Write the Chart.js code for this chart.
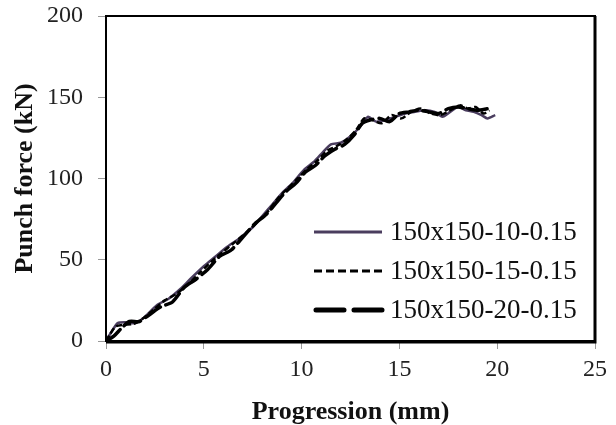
<!DOCTYPE html>
<html>
<head>
<meta charset="utf-8">
<script src="https://cdn.jsdelivr.net/npm/chart.js@4"></script>
<style>
  html, body { margin: 0; padding: 0; background: #fff; }
  #wrap { width: 616px; height: 425px; }
</style>
</head>
<body>
<div id="wrap"><canvas id="graficoPunch" width="616" height="425"></canvas></div>
<script>
// series labels
const seriesNames = ['150x150-10-0.15', '150x150-15-0.15', '150x150-20-0.15'];

// 150x150-10-0.15 (solid)
const progA = [0, 0.3, 0.6, 1.0, 1.5, 2.0, 2.6, 3.2, 3.8, 4.3, 5.0, 5.6, 6.2, 6.8, 7.5, 8.0, 8.5, 9.0, 9.6, 10.1,
  10.6, 11.0, 11.5, 12.0, 12.5, 13.0, 13.4, 13.8, 14.3, 14.8, 15.3, 15.8, 16.3, 16.8, 17.2, 17.6, 18.0, 18.4, 18.8, 19.2, 19.5, 19.9];
const forceA = [0, 6, 11, 11.5, 11, 15, 22, 26, 32, 38, 46, 52, 58, 63, 70, 77, 84, 91, 98, 105,
  110, 115, 121, 122, 126, 132, 138, 135, 136, 138, 140, 141, 142, 141, 138, 141, 144, 142, 141, 139, 137, 139];

// 150x150-15-0.15 (short dash)
const progB = [0, 0.2, 0.5, 0.9, 1.4, 1.9, 2.4, 3.0, 3.6, 4.2, 4.8, 5.4, 6.0, 6.6, 7.2, 7.8, 8.3, 8.8, 9.3, 9.8,
  10.3, 10.8, 11.3, 11.8, 12.3, 12.8, 13.2, 13.6, 14.1, 14.6, 15.1, 15.6, 16.1, 16.6, 17.1, 17.6, 18.1, 18.5, 18.9, 19.3, 19.6];
const forceB = [0, 4, 9, 10, 10.5, 14, 19, 25, 29, 35, 42, 49, 55, 61, 67, 74, 80, 88, 94, 100,
  106, 111, 117, 120, 124, 130, 137, 136, 134, 139, 137, 141, 143, 140, 139, 142, 145, 143, 144, 140, 142];

// 150x150-20-0.15 (long dash)
const progC = [0, 0.4, 0.8, 1.2, 1.7, 2.2, 2.8, 3.4, 4.0, 4.6, 5.2, 5.8, 6.4, 7.0, 7.6, 8.2, 8.7, 9.2, 9.7, 10.2,
  10.7, 11.2, 11.7, 12.2, 12.7, 13.1, 13.5, 14.0, 14.5, 15.0, 15.5, 16.0, 16.5, 17.0, 17.5, 18.0, 18.5, 19.0, 19.5];
const forceC = [0, 3, 8, 12, 12, 16, 21, 24, 33, 38, 44, 52, 56, 64, 72, 78, 85, 92, 97, 104,
  108, 114, 118, 121, 127, 134, 136, 137, 135, 140, 141, 142, 141, 140, 143, 144, 143, 142, 143];

// axis ticks
const xTicks = [0, 5, 10, 15, 20, 25];
const yTicks = [0, 50, 100, 150, 200];

function pts(xs, ys) {
    return xs.map((x, i) => ({ x: x, y: ys[i] }));
}

const serif = "'Liberation Serif', 'Times New Roman', serif";

// frame round the plot + legend inside it
const framePlugin = {
    id: 'frame',
    afterDraw(chart) {
        const { ctx, chartArea: a } = chart;
        ctx.save();
        ctx.strokeStyle = '#000';
        ctx.lineWidth = 2;
        ctx.strokeRect(a.left, a.top, a.right - a.left, a.bottom - a.top);
        ctx.lineWidth = 3;
        ctx.beginPath();
        ctx.moveTo(a.right, a.top);
        ctx.lineTo(a.right, a.bottom + 1);
        ctx.lineTo(a.left, a.bottom + 1);
        ctx.stroke();

        // legend
        const rowY = [232, 271, 310];
        chart.data.datasets.forEach((ds, i) => {
            ctx.strokeStyle = ds.borderColor;
            ctx.lineWidth = ds.legendWidth;
            ctx.lineCap = ds.legendCap;
            ctx.setLineDash(ds.legendDash);
            ctx.beginPath();
            ctx.moveTo(ds.legendStart, rowY[i]);
            ctx.lineTo(382, rowY[i]);
            ctx.stroke();
            ctx.setLineDash([]);
            ctx.fillStyle = '#111';
            ctx.font = '27px ' + serif;
            ctx.textBaseline = 'middle';
            ctx.fillText(ds.label, 390, rowY[i] + 1);
        });
        ctx.restore();
    }
};

const data = {
    datasets: [
        {
            label: seriesNames[0],
            data: pts(progA, forceA),
            borderColor: '#4a3d5e',
            borderWidth: 2.5,
            legendWidth: 3,
            legendCap: 'butt',
            legendDash: [],
            legendStart: 314,
            order: 3,
        },
        {
            label: seriesNames[1],
            data: pts(progB, forceB),
            borderColor: '#000',
            borderWidth: 2.5,
            borderDash: [6, 3],
            legendWidth: 3,
            legendCap: 'butt',
            legendDash: [8, 4],
            legendStart: 314,
            order: 2,
        },
        {
            label: seriesNames[2],
            data: pts(progC, forceC),
            borderColor: '#000',
            borderWidth: 3.5,
            borderDash: [18, 6],
            borderCapStyle: 'round',
            legendWidth: 5,
            legendCap: 'round',
            legendDash: [28, 10],
            legendStart: 316,
            order: 1,
        },
    ]
};

const tickFont = { family: serif, size: 24 };
const titleFont = { family: serif, size: 26, weight: 'bold', lineHeight: 1 };

const config = {
    type: 'line',
    data: data,
    options: {
        responsive: false,
        animation: false,
        layout: {
            padding: { top: 16, right: 21, left: 0, bottom: 0 }
        },
        elements: {
            point: { radius: 0 },
            line: { tension: 0.25 }
        },
        scales: {
            x: {
                type: 'linear',
                min: 0,
                max: 25,
                afterBuildTicks: (s) => { s.ticks = xTicks.map(v => ({ value: v })); },
                afterFit: (s) => { s.height = 84; s.paddingLeft = 0; s.paddingRight = 0; },
                border: { display: false },
                grid: { drawOnChartArea: false, drawTicks: true, tickLength: 8, tickColor: '#999', lineWidth: 1 },
                ticks: { color: '#222', font: tickFont, padding: 6, maxRotation: 0 },
                title: { display: true, text: 'Progression (mm)', color: '#111', font: titleFont, padding: { top: 0, bottom: 0 } }
            },
            y: {
                type: 'linear',
                min: 0,
                max: 200,
                afterBuildTicks: (s) => { s.ticks = yTicks.map(v => ({ value: v })); },
                afterFit: (s) => { s.width = 106; s.paddingTop = 0; s.paddingBottom = 0; },
                border: { display: false },
                grid: { drawOnChartArea: false, drawTicks: true, tickLength: 8, tickColor: '#999', lineWidth: 1 },
                ticks: { color: '#222', font: tickFont, padding: 15 },
                title: { display: true, text: 'Punch force (kN)', color: '#111', font: titleFont, padding: { top: 12, bottom: 0 } }
            }
        },
        plugins: {
            legend: { display: false },
            tooltip: { enabled: false },
        },
    },
    plugins: [framePlugin]
};

const graficoPunch = new Chart(
    document.getElementById('graficoPunch'),
    config
);
</script>
</body>
</html>
